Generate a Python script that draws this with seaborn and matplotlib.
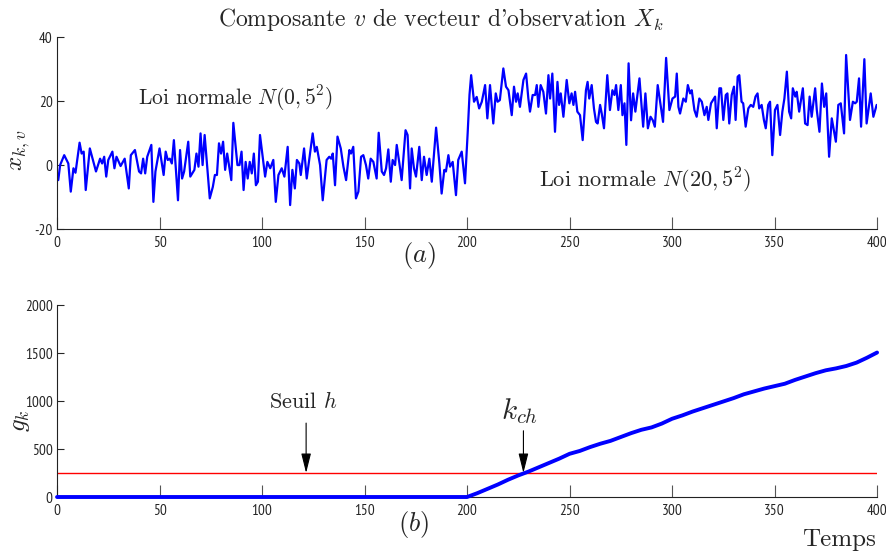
import numpy as np
import pandas as pd
import seaborn as sns
import matplotlib.pyplot as plt
from matplotlib import font_manager

# observation x_{k,v} (time, value)
t_obs = [0.6, 1.5, 3.5, 5.5, 6.7, 8.0, 9.0, 11.0, 12.0, 13.0, 14.0, 16.0, 19.0, 21.0, 22.0, 23.0, 24.0, 25.0,
         27.0, 28.0, 29.0, 31.0, 33.0, 35.0, 36.0, 38.0, 40.0, 41.0, 42.0, 43.0, 44.0, 46.0, 47.0, 48.0,
         50.0, 52.0, 53.0, 54.0, 55.0, 56.0, 57.0, 59.0, 60.0, 61.0, 62.0, 64.0, 65.0, 67.0, 68.0, 69.0,
         70.0, 71.0, 72.0, 73.0, 74.5, 76.0, 77.0, 78.0, 79.0, 80.0, 81.0, 82.0, 83.0, 85.0, 86.0, 88.0,
         89.0, 90.0, 91.0, 92.0, 93.0, 94.0, 95.0, 96.0, 97.0, 98.0, 99.0,
         101.5, 102.6, 104.0, 105.5, 106.7, 108.0, 109.6, 110.9, 112.5, 113.7, 114.8, 116.0, 117.0, 118.2,
         118.9, 120.5, 121.8, 123.4, 124.7, 125.8, 126.7, 128.3, 129.6, 131.5, 132.8, 133.7, 134.5, 135.6,
         136.8, 138.4, 139.7, 141.0, 142.6, 143.4, 144.5, 145.8, 147.0, 148.3, 149.4, 150.7, 151.8, 153.0,
         154.3, 155.9, 156.9, 158.4, 159.5, 160.5, 161.6, 162.8, 163.7, 164.9, 165.7, 167.0, 168.1, 170.0,
         171.0, 172.2, 173.0, 174.1, 175.1, 176.7, 177.9, 179.0, 180.3, 181.6, 182.8, 184.9, 186.5, 187.6,
         188.9, 189.7, 190.9, 191.7, 193.0, 194.6, 195.7, 197.4, 199.0,
         200.3, 201.2, 202.0, 203.4, 204.7, 205.9, 207.2, 208.8, 209.9, 211.2, 212.8, 214.0, 214.9, 216.0,
         217.7, 219.0, 220.2, 221.8, 222.9, 223.9, 224.7, 225.8, 227.5, 228.8, 229.9, 230.7, 232.0, 233.2,
         234.0, 234.8, 235.9, 237.2, 238.5, 239.7, 240.5, 241.6, 242.9, 244.1, 244.9, 245.7, 247.0, 248.6,
         249.9, 251.0, 251.9, 252.7, 253.8, 255.1, 256.4, 258.0, 258.8, 259.6, 260.8, 261.9, 262.9, 263.7,
         264.9, 265.7, 266.8, 268.4, 269.7, 270.9, 271.9, 272.7, 273.8, 275.0, 275.8, 276.8, 277.7, 278.8,
         280.0, 281.0, 282.1, 284.1, 285.9, 287.0, 288.2, 289.5, 290.6, 291.6, 293.0, 294.3, 295.6, 297.1,
         298.7, 300.2, 301.5, 302.3, 303.1, 303.9, 305.5, 306.7, 307.7, 308.8, 309.6, 310.9, 312.0, 313.3,
         314.5, 315.8, 316.9, 317.7, 319.0, 321.0, 321.8, 323.1, 323.9, 325.0, 326.2, 327.0, 327.9, 329.1,
         330.2, 331.0, 332.0, 332.8, 333.9, 334.7, 335.9, 337.2, 338.4, 339.6, 340.7, 341.7, 342.5, 343.7,
         344.8, 345.7, 346.9, 347.8, 348.9, 350.2, 351.4, 352.7, 353.8, 354.8, 356.0, 357.1, 358.1, 358.9,
         360.1, 360.8, 362.0, 363.8, 364.9, 366.1, 367.1, 368.1, 369.8, 370.6, 371.9, 373.1, 374.2, 375.2,
         376.6, 377.9, 379.9, 381.1, 382.3, 383.9, 384.9, 386.8, 388.2, 389.3, 390.1, 391.2, 392.2, 393.8,
         394.9, 396.9, 398.2, 399.8]
x_obs = [-4.7, 0.0, 3.1, 0.5, -8.3, -1.0, -2.4, 7.0, 3.6, 4.2, -7.8, 5.2, -2.0, 2.0, 0.5, 2.6, -3.6, 1.6,
         4.2, -1.0, 2.6, -0.3, 2.0, -7.3, 3.1, 4.7, -2.0, -2.6, 2.0, -2.6, 2.6, 6.3, -11.5, -2.0,
         5.2, -3.1, 4.2, 1.6, 2.0, 0.5, 7.8, -11.0, 4.7, -4.2, -2.0, 7.3, -3.6, -1.5, 3.6, -0.5,
         9.9, 0.0, 9.4, 1.6, -10.4, -6.8, -3.1, -3.1, 6.8, 3.6, 7.3, -1.5, 3.6, -4.7, 13.2, 0.0,
         0.0, 4.2, -7.8, 1.0, -4.2, 1.0, -2.6, 3.6, -6.3, -5.2, 9.4,
         -3.6, 1.0, -1.0, 1.6, -11.5, -3.1, -1.0, -3.6, 5.7, -12.5, -1.5, -7.3, 1.6, 0.5,
         -3.1, 5.2, -4.2, 3.6, 9.9, 4.2, 5.7, 0.0, -11.0, 1.6, 2.6, 2.0, 3.6, -6.3,
         8.9, 5.2, -0.5, -4.7, 4.7, 3.6, 5.7, -10.4, -8.3, 2.6, 3.1, 0.0, -4.2, 2.0,
         1.0, -4.2, 10.1, -2.0, -3.1, -1.0, 4.9, -5.2, 1.6, 0.0, 6.3, 0.5, -4.7, 10.9,
         9.4, -7.3, 5.2, -1.0, -3.6, 5.7, -4.7, 2.6, -3.1, 2.0, -5.2, 11.7, 0.5, -8.9,
         -1.5, -2.0, 3.1, -0.5, 1.0, -9.4, 1.6, 4.2, -5.7,
         10.0, 22.0, 28.1, 19.8, 21.3, 17.7, 19.8, 25.0, 14.6, 25.0, 13.0, 22.4, 19.8, 20.3,
         30.2, 24.5, 23.4, 15.6, 24.5, 19.8, 22.4, 18.2, 26.6, 28.6, 20.8, 16.7, 21.9, 21.9,
         25.0, 18.2, 25.0, 22.9, 16.1, 28.1, 20.8, 28.6, 10.4, 26.0, 18.8, 22.4, 15.1, 26.6,
         19.3, 22.4, 18.8, 22.9, 16.7, 15.6, 7.8, 23.4, 26.0, 20.8, 25.0, 17.7, 13.5, 13.0,
         18.8, 16.1, 11.5, 28.1, 17.2, 23.4, 21.9, 25.0, 17.2, 25.0, 15.6, 19.3, 6.3, 31.8,
         14.0, 22.4, 16.7, 27.1, 12.0, 22.4, 11.5, 15.1, 14.0, 12.0, 25.0, 19.3, 13.5, 33.5,
         17.2, 20.8, 21.4, 28.6, 18.2, 16.1, 20.8, 19.8, 25.0, 22.4, 23.4, 17.2, 15.1, 20.8,
         19.8, 15.6, 18.2, 14.1, 19.3, 21.4, 11.5, 24.0, 24.0, 14.1, 21.9, 22.4, 13.0, 21.9,
         24.5, 14.1, 27.6, 28.1, 19.8, 19.3, 12.0, 17.7, 18.8, 18.2, 21.4, 22.4, 17.7, 18.8,
         14.1, 11.5, 18.8, 19.8, 3.1, 17.2, 18.8, 9.4, 16.7, 20.8, 29.2, 16.7, 14.6, 24.0,
         21.4, 22.9, 16.7, 24.0, 13.0, 12.5, 21.4, 15.1, 24.0, 17.2, 10.4, 25.5, 18.2, 22.4,
         2.6, 14.6, 7.3, 18.8, 19.3, 9.9, 34.4, 14.1, 19.8, 19.3, 19.8, 27.1, 12.0, 33.1,
         13.0, 22.4, 15.1, 18.8]

# decision function g_k
t_g = list(range(0, 401, 5))
g_vals = [0] * 41 + [40, 85, 130, 180, 225, 265, 310, 355, 400, 450, 480, 520, 555, 585, 625, 665,
                     700, 725, 765, 815, 850, 890, 925, 960, 995, 1030, 1070, 1100, 1130, 1155,
                     1180, 1220, 1255, 1290, 1320, 1340, 1365, 1400, 1450, 1505]
h_seuil = 250
k_ch = 227.5

df_obs = pd.DataFrame({'t': t_obs, 'x': x_obs})
df_g = pd.DataFrame({'t': t_g, 'g': g_vals})

sns.set_style('ticks')
plt.rcParams['font.family'] = ['cmr10', 'DejaVu Serif']
plt.rcParams['mathtext.fontset'] = 'cm'
plt.rcParams['axes.formatter.use_mathtext'] = False
plt.rcParams['axes.unicode_minus'] = False

# narrow sans for the tick labels, if one is installed
tick_size = 11
tick_fp = font_manager.FontProperties(family='DejaVu Sans', size=9.5)
for f in font_manager.fontManager.ttflist:
    fn = f.fname.lower()
    if ('narrow' in fn or 'condensed' in fn) and 'sans' in fn and 'bold' not in fn and 'oblique' not in fn \
            and 'italic' not in fn and 'mono' not in fn:
        tick_fp = font_manager.FontProperties(fname=f.fname, size=tick_size)
        if 'narrow' in fn:
            break

fig = plt.figure(figsize=(8.87, 5.56), dpi=100)
ax1 = fig.add_axes([0.0643, 0.588, 0.9245, 0.3453])
ax2 = fig.add_axes([0.0643, 0.1061, 0.9245, 0.3453])

sns.lineplot(data=df_obs, x='t', y='x', ax=ax1, color='#0000ff', lw=1.6, sort=False)
sns.lineplot(data=df_g, x='t', y='g', ax=ax2, color='#0000ff', lw=2.8, sort=False, clip_on=False, zorder=3)
ax2.axhline(h_seuil, color='#ff0000', lw=1.0, zorder=2)

ax1.set_ylim(-20, 40)
ax1.set_yticks([-20, 0, 20, 40])
ax2.set_ylim(0, 2000)
ax2.set_yticks([0, 500, 1000, 1500, 2000])

for ax in (ax1, ax2):
    sns.despine(ax=ax)
    ax.set_xlim(0, 400)
    ax.set_xticks(range(0, 401, 50))
    ax.set_xlabel('')
    ax.tick_params(axis='x', direction='in', length=9, width=0.8, color='#555555', pad=5)
    ax.tick_params(axis='y', direction='in', length=5, width=0.8, pad=3)
    for s in ('left', 'bottom'):
        ax.spines[s].set_linewidth(0.8)
        ax.spines[s].set_color('#222222')
    for lab in ax.get_xticklabels() + ax.get_yticklabels():
        lab.set_fontproperties(tick_fp)

ax1.set_ylabel(r'$x_{k,v}$', fontsize=18)
ax2.set_ylabel(r'$g_k$', fontsize=18)
ax1.yaxis.set_label_coords(-0.03, 0.41)
ax2.yaxis.set_label_coords(-0.03, 0.40)

fig.text(0.497, 0.965, "Composante $v$ de vecteur d'observation $X_k$", ha='center', va='center', fontsize=17)
ax1.text(87, 21, r'Loi normale $N(0,5^2)$', ha='center', va='center', fontsize=15.5)
ax1.text(287, -5, r'Loi normale $N(20,5^2)$', ha='center', va='center', fontsize=16)
fig.text(0.472, 0.540, r'$(a)$', ha='center', va='center', fontsize=19)
fig.text(0.466, 0.056, r'$(b)$', ha='center', va='center', fontsize=19)
fig.text(0.946, 0.028, 'Temps', ha='center', va='center', fontsize=18)

arrow = dict(arrowstyle='-|>,head_length=1.2,head_width=0.3', color='black', lw=0.8, mutation_scale=10,
             shrinkA=0, shrinkB=0)
ax2.annotate('', xy=(121.5, h_seuil), xytext=(121.5, 770), arrowprops=arrow)
ax2.text(120, 990, r'Seuil $h$', ha='center', va='center', fontsize=16)
ax2.annotate('', xy=(k_ch, h_seuil), xytext=(k_ch, 690), arrowprops=arrow)
ax2.text(225.6, 900, r'$k_{ch}$', ha='center', va='center', fontsize=21)

fig.savefig('out.png', dpi=100)
